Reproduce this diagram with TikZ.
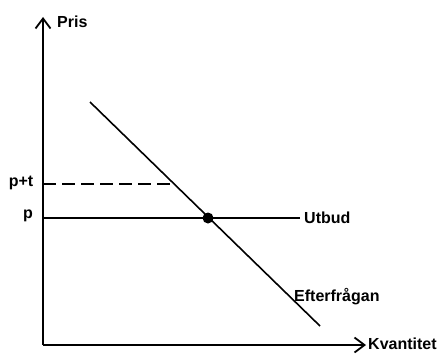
\documentclass[tikz,border=0pt]{standalone}
\usepackage{fontspec}
\setmainfont{Liberation Sans}
\usetikzlibrary{arrows.meta}
\begin{document}
\begin{tikzpicture}[x=1pt,y=-1pt,
  axis/.style={line width=2pt,-{Straight Barb[length=10pt,width=15pt,line width=1.8pt]}},
  curve/.style={line width=1.6pt},
  lbl/.style={font=\fontsize{16}{16}\selectfont\bfseries, inner sep=0pt}]
\useasboundingbox (0,0) rectangle (446,353);
\coordinate (O) at (43,345);
\coordinate (ytop) at (43,17);
\coordinate (xend) at (366,345);
\draw[axis] (O) -- (ytop);
\draw[axis] (O) -- (xend);
\node[lbl, anchor=west] (pris) at (57,22) {Pris};
\node[lbl, anchor=west] (kv) at (368,344) {Kvantitet};
% demand
\coordinate (d1) at (90,102);
\coordinate (d2) at (320,326);
\draw[curve] (d1) -- (d2);
\node[lbl, anchor=west] (eft) at (294,297) {Efterfrågan};
% supply
\coordinate (pl) at (43,218);
\coordinate (pr) at (300,218);
\draw[curve] (pl) -- (pr);
\node[lbl, anchor=west] (utb) at (304,218) {Utbud};
\node[lbl] (p) at (28,216) {p};
% dashed
\coordinate (ptl) at (43,184);
\coordinate (ptr) at (175,184);
\draw[curve, dash pattern=on 13pt off 6pt] (ptl) -- (ptr);
\node[lbl] (pt) at (21,183) {p+t};
% equilibrium
\fill (208,218) circle (5.5pt);
\end{tikzpicture}
\end{document}
